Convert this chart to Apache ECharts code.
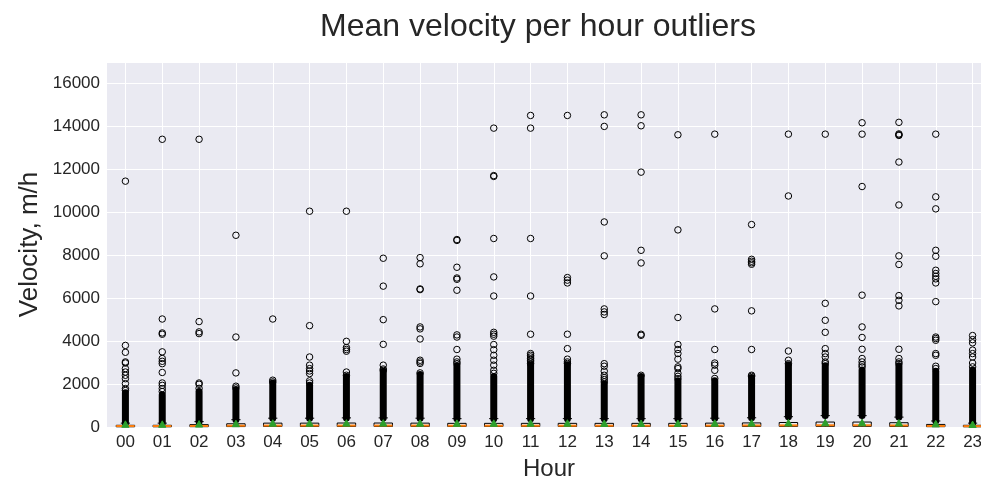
<!DOCTYPE html>
<html>
<head>
<meta charset="utf-8">
<title>Mean velocity per hour outliers</title>
<script src="https://cdn.jsdelivr.net/npm/echarts@6/dist/echarts.min.js"></script>
<style>
  html, body { margin: 0; padding: 0; background: #ffffff; overflow: hidden; }
  #chart { width: 991px; height: 490px; }
</style>
</head>
<body>
<div id="chart"></div>
<script>
// Hour of day categories
const hours = ['00','01','02','03','04','05','06','07','08','09','10','11',
               '12','13','14','15','16','17','18','19','20','21','22','23'];

// Box statistics per hour (m/h)
const q1      = [10, 10, 15, 20, 25, 25, 25, 25, 25, 25, 25, 25, 25, 25, 25, 25, 25, 25, 30, 30, 30, 25, 15, 10];
const medians = [45, 45, 50, 60, 65, 65, 65, 65, 65, 60, 60, 60, 60, 60, 60, 60, 65, 70, 75, 80, 80, 70, 50, 40];
const q3      = [80, 80, 110, 150, 180, 180, 185, 185, 180, 170, 170, 170, 170, 170, 170, 170, 180, 190, 210, 230, 230, 200, 120, 80];
const whiskerLow  = [0, 0, 0, 0, 0, 0, 0, 0, 0, 0, 0, 0, 0, 0, 0, 0, 0, 0, 0, 0, 0, 0, 0, 0];
const whiskerHigh = [180, 180, 250, 340, 410, 410, 425, 425, 410, 390, 390, 390, 390, 390, 390, 390, 410, 430, 480, 530, 530, 460, 280, 180];
const means   = [120, 120, 130, 150, 170, 170, 175, 175, 170, 165, 165, 170, 170, 160, 160, 160, 170, 175, 185, 190, 190, 180, 140, 110];

// Upper end of the densely packed run of outliers just above each whisker
const denseTop = [1600, 1500, 1650, 1750, 2050, 1950, 2350, 2600, 2450, 2850, 2350, 2900,
                  2900, 2000, 2350, 2150, 2150, 2300, 2900, 2850, 2650, 2850, 2600, 2650];

// Individually visible outliers per hour (m/h)
const outliers = [
  [11450, 3800, 3480, 3030, 2980, 2720, 2560, 2410, 2250, 2020, 1790, 1700],
  [13400, 5030, 4380, 4320, 3500, 3190, 3060, 2950, 2540, 2050, 1940, 1790, 1650],
  [13400, 4910, 4430, 4350, 2050, 1990, 1800],
  [8930, 4190, 2520, 1900, 1820],
  [5030, 2180, 2100],
  [10050, 4720, 3260, 2880, 2720, 2610, 2490, 2150, 2050],
  [10050, 3990, 3700, 3610, 3530, 2560, 2410],
  [7860, 6560, 5000, 3850, 2880, 2700, 2640],
  [7890, 7600, 6430, 6400, 4660, 4570, 4100, 3110, 3030, 2960, 2520],
  [8730, 8690, 7440, 6940, 6880, 6370, 4290, 4190, 3610, 3160, 3030, 2950],
  [13920, 11710, 11670, 8780, 6990, 6100, 4410, 4320, 4230, 3840, 3600, 3340, 3110, 2880, 2640, 2500],
  [14510, 13920, 8780, 6100, 4320, 3420, 3340, 3260, 3180, 3110, 3030, 2950],
  [14510, 6960, 6840, 6710, 4320, 3650, 3160, 3030, 2960],
  [14540, 14000, 9550, 7970, 5500, 5360, 5240, 2950, 2830, 2600, 2410, 2300, 2210, 2100],
  [14540, 14030, 11870, 8230, 7640, 4320, 4270, 2410],
  [13610, 9180, 5100, 3840, 3610, 3420, 3160, 2800, 2720, 2500, 2360, 2250],
  [13640, 5500, 3610, 2980, 2880, 2640, 2260],
  [9430, 7810, 7720, 7650, 7580, 5410, 3610, 2410, 2360],
  [13640, 10760, 3540, 3110, 2950],
  [13640, 5760, 4970, 4410, 3650, 3420, 3260, 3030, 2950],
  [14170, 13640, 11200, 6140, 4660, 4170, 3620, 3190, 3030, 2900, 2800],
  [14190, 13650, 13610, 13580, 12340, 10340, 7970, 7570, 6120, 5900, 5640, 3620, 3190, 3030, 2950],
  [13640, 10720, 10160, 8230, 7950, 7300, 7150, 7020, 6900, 6710, 5840, 4190, 4120, 4040, 3420, 3340, 2830, 2720],
  [4260, 4070, 3920, 3580, 3420, 3260, 2980, 2800]
];

// Y axis ticks
const yTicks = [0, 2000, 4000, 6000, 8000, 10000, 12000, 14000, 16000];
const yMax = 17000;

const textColor = '#262626';
const fontFamily = '"Liberation Sans", Arial, Helvetica, sans-serif';

const boxData = hours.map((h, i) => [i, q1[i], medians[i], q3[i], whiskerLow[i], whiskerHigh[i], means[i]]);
const denseData = hours.map((h, i) => [i, whiskerHigh[i], denseTop[i]]);
const outlierData = [];
outliers.forEach((vals, i) => vals.forEach(v => outlierData.push([i, v])));

const chart = echarts.init(document.getElementById('chart'), null, { renderer: 'canvas' });

chart.setOption({
  animation: false,
  backgroundColor: '#ffffff',
  textStyle: { fontFamily: fontFamily },
  title: {
    text: 'Mean velocity per hour outliers',
    left: 533,
    top: 6,
    textAlign: 'center',
    textStyle: { fontSize: 32, fontWeight: 'normal', color: textColor, fontFamily: fontFamily }
  },
  graphic: [
    {
      type: 'text',
      x: 30, y: 244.5,
      rotation: Math.PI / 2,
      style: {
        text: 'Velocity, m/h',
        fontSize: 26, fontFamily: fontFamily, fill: textColor,
        textAlign: 'center', textVerticalAlign: 'middle'
      }
    },
    {
      type: 'text',
      x: 549, y: 469,
      style: {
        text: 'Hour',
        fontSize: 24, fontFamily: fontFamily, fill: textColor,
        textAlign: 'center', textVerticalAlign: 'middle'
      }
    }
  ],
  grid: {
    left: 107, right: 0, top: 62, bottom: 63,
    show: true, backgroundColor: '#EAEAF2', borderWidth: 0,
    containLabel: false
  },
  xAxis: {
    type: 'category',
    data: hours,
    boundaryGap: true,
    axisLine: { show: false },
    axisTick: { show: false, alignWithLabel: true },
    axisLabel: { color: textColor, fontSize: 17, margin: 7, fontFamily: fontFamily },
    splitLine: { show: true, alignWithLabel: true, lineStyle: { color: '#ffffff', width: 1 } }
  },
  yAxis: {
    type: 'value',
    min: 0,
    max: yMax,
    interval: 2000,
    axisLine: { show: false },
    axisTick: { show: false },
    axisLabel: {
      color: textColor, fontSize: 17, margin: 7, fontFamily: fontFamily,
      showMaxLabel: false,
      formatter: v => (yTicks.indexOf(v) >= 0 ? String(v) : '')
    },
    splitLine: { show: true, lineStyle: { color: '#ffffff', width: 1 } }
  },
  series: [
    {
      // boxes, whiskers and caps
      type: 'custom',
      z: 2,
      data: boxData,
      encode: { x: 0, y: [1, 2, 3, 4, 5, 6] },
      renderItem: function (params, api) {
        const i = api.value(0);
        const x = api.coord([i, 0])[0];
        const band = api.size([1, 0])[0];
        const hw = band * 0.25;
        const yQ1 = api.coord([i, api.value(1)])[1];
        const yQ3 = api.coord([i, api.value(3)])[1];
        const yLo = api.coord([i, api.value(4)])[1];
        const yHi = api.coord([i, api.value(5)])[1];
        const line = { stroke: '#000000', lineWidth: 1 };
        return {
          type: 'group',
          children: [
            { type: 'rect', shape: { x: x - hw, y: yQ3, width: hw * 2, height: Math.max(yQ1 - yQ3, 0.5) },
              style: { fill: 'rgba(0,0,0,0)', stroke: '#000000', lineWidth: 1 } },
            { type: 'line', shape: { x1: x, y1: yQ3, x2: x, y2: yHi }, style: line },
            { type: 'line', shape: { x1: x, y1: yQ1, x2: x, y2: yLo }, style: line },
            { type: 'line', shape: { x1: x - hw / 2, y1: yHi, x2: x + hw / 2, y2: yHi }, style: line }
          ]
        };
      }
    },
    {
      // densely overlapping outlier markers above each whisker
      type: 'custom',
      z: 3,
      data: denseData,
      encode: { x: 0, y: [1, 2] },
      renderItem: function (params, api) {
        const i = api.value(0);
        const x = api.coord([i, 0])[0];
        const yLow = api.coord([i, api.value(1)])[1];
        const yHigh = api.coord([i, api.value(2)])[1];
        const w = 7;
        return {
          type: 'rect',
          shape: { x: x - w / 2, y: yHigh - w / 2, width: w, height: (yLow - yHigh) + w, r: w / 2 },
          style: { fill: '#000000' }
        };
      }
    },
    {
      // individual outliers
      type: 'scatter',
      z: 3,
      data: outlierData,
      symbol: 'circle',
      symbolSize: 6.5,
      itemStyle: { color: 'rgba(0,0,0,0)', borderColor: '#000000', borderWidth: 1, opacity: 1 },
      emphasis: { disabled: true },
      silent: true
    },
    {
      // medians and means
      type: 'custom',
      z: 4,
      data: boxData,
      encode: { x: 0, y: [2, 6] },
      renderItem: function (params, api) {
        const i = api.value(0);
        const x = api.coord([i, 0])[0];
        const band = api.size([1, 0])[0];
        const hw = band * 0.25;
        const yMed = api.coord([i, api.value(2)])[1];
        const yMean = api.coord([i, api.value(6)])[1];
        const t = 3.6;
        return {
          type: 'group',
          children: [
            { type: 'line', shape: { x1: x - hw, y1: yMed, x2: x + hw, y2: yMed },
              style: { stroke: '#ff7f0e', lineWidth: 2 } },
            { type: 'polygon',
              shape: { points: [[x, yMean - t], [x - t, yMean + t * 0.8], [x + t, yMean + t * 0.8]] },
              style: { fill: '#2ca02c', stroke: '#2ca02c', lineWidth: 1 } }
          ]
        };
      }
    }
  ]
});
</script>
</body>
</html>
